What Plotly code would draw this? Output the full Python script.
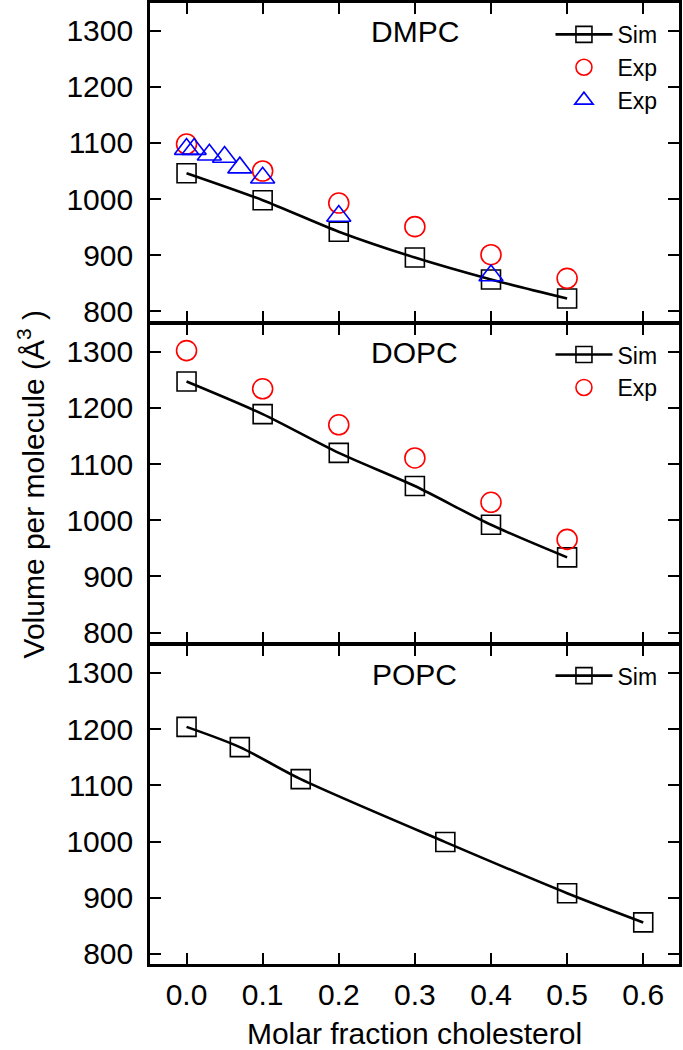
import plotly.graph_objects as go
from plotly.subplots import make_subplots

# ---------------- data ----------------
panel_names = ["DMPC", "DOPC", "POPC"]

x_sim_dmpc = [0.0, 0.1, 0.2, 0.3, 0.4, 0.5]
v_sim_dmpc = [1046, 998, 942, 896, 857, 823]
x_exp_dmpc = [0.0, 0.1, 0.2, 0.3, 0.4, 0.5]
v_exp_dmpc = [1098, 1050, 993, 951, 901, 859]
x_exp2_dmpc = [0.0, 0.01, 0.03, 0.05, 0.07, 0.1, 0.2, 0.4]
v_exp2_dmpc = [1089, 1089, 1079, 1075, 1056, 1038, 970, 864]

x_sim_dopc = [0.0, 0.1, 0.2, 0.3, 0.4, 0.5]
v_sim_dopc = [1247, 1189, 1120, 1061, 992, 934]
x_exp_dopc = [0.0, 0.1, 0.2, 0.3, 0.4, 0.5]
v_exp_dopc = [1302, 1234, 1170, 1111, 1032, 966]

x_sim_popc = [0.0, 0.07, 0.15, 0.34, 0.5, 0.6]
v_sim_popc = [1204, 1168, 1111, 999, 908, 856]

x_ticks = [0.0, 0.1, 0.2, 0.3, 0.4, 0.5, 0.6]
y_ticks = [800, 900, 1000, 1100, 1200, 1300]

FONT = "Liberation Sans, Arial, Helvetica, sans-serif"
LW = 2.6  # frame line width

fig = make_subplots(rows=3, cols=1, shared_xaxes=True,
                    vertical_spacing=LW / 960.7)


def sim_trace(x, y, leg):
    return go.Scatter(
        x=x, y=y, mode="lines+markers", name="Sim", legend=leg,
        line=dict(color="black", width=2.6, shape="spline", smoothing=0.8),
        marker=dict(symbol="square-open", size=19, color="black",
                    line=dict(color="black", width=1.6)),
    )


def exp_circle(x, y, leg):
    return go.Scatter(
        x=x, y=y, mode="markers", name="Exp", legend=leg,
        marker=dict(symbol="circle-open", size=20, color="red",
                    line=dict(color="red", width=1.6)),
    )


def exp_tri(x, y, leg):
    return go.Scatter(
        x=x, y=y, mode="markers", name="Exp", legend=leg,
        marker=dict(symbol="triangle-up-open", size=21, color="blue",
                    line=dict(color="blue", width=1.6)),
    )


fig.add_trace(sim_trace(x_sim_dmpc, v_sim_dmpc, "legend"), row=1, col=1)
fig.add_trace(exp_circle(x_exp_dmpc, v_exp_dmpc, "legend"), row=1, col=1)
fig.add_trace(exp_tri(x_exp2_dmpc, v_exp2_dmpc, "legend"), row=1, col=1)

fig.add_trace(sim_trace(x_sim_dopc, v_sim_dopc, "legend2"), row=2, col=1)
fig.add_trace(exp_circle(x_exp_dopc, v_exp_dopc, "legend2"), row=2, col=1)

fig.add_trace(sim_trace(x_sim_popc, v_sim_popc, "legend3"), row=3, col=1)

axis_common = dict(
    showline=True, linecolor="black", linewidth=LW, mirror="ticks",
    ticks="inside", ticklen=11, tickwidth=1.5, tickcolor="black",
    showgrid=False, zeroline=False,
    tickfont=dict(family=FONT, size=30, color="black"),
)

for r in (1, 2, 3):
    fig.update_xaxes(range=[-0.048, 0.647], tickvals=x_ticks,
                     ticktext=[f"{v:.1f}" for v in x_ticks],
                     row=r, col=1, **axis_common)
    fig.update_yaxes(range=[782, 1349], tickvals=y_ticks,
                     ticklabelstandoff=8,
                     row=r, col=1, **axis_common)

fig.update_xaxes(showticklabels=True, ticklabelstandoff=2, row=3, col=1,
                 title=dict(text="Molar fraction cholesterol",
                            font=dict(family=FONT, size=30, color="black"),
                            standoff=14))

# panel labels
for i, name in enumerate(panel_names):
    sfx = "" if i == 0 else str(i + 1)
    fig.add_annotation(text=name, xref=f"x{sfx} domain", yref=f"y{sfx} domain",
                       x=0.5, y=0.91, xanchor="center", yanchor="middle",
                       showarrow=False,
                       font=dict(family=FONT, size=30, color="black"))

# y-axis title
fig.add_annotation(text="Volume per molecule (Å<sup>3</sup> )",
                   xref="paper", yref="paper", x=-0.225, y=0.5,
                   xanchor="center", yanchor="middle", textangle=-90,
                   showarrow=False,
                   font=dict(family=FONT, size=30, color="black"))

leg_common = dict(xanchor="left", yanchor="top", bgcolor="rgba(0,0,0,0)",
                  borderwidth=0, font=dict(family=FONT, size=23, color="black"),
                  itemsizing="trace", itemwidth=57)

fig.update_layout(
    width=683, height=1050,
    margin=dict(l=150.3, r=4.3, t=3, b=86.3, autoexpand=False),
    paper_bgcolor="white", plot_bgcolor="white",
    showlegend=True,
    legend=dict(x=0.757, y=0.9897, **leg_common),
    legend2=dict(x=0.757, y=0.6565, **leg_common),
    legend3=dict(x=0.757, y=0.3224, **leg_common),
)

fig.write_html(
    "out.html",
    config={"displayModeBar": False},
    post_script="document.body.style.margin='0px';"
                "document.body.style.overflow='hidden';",
)
